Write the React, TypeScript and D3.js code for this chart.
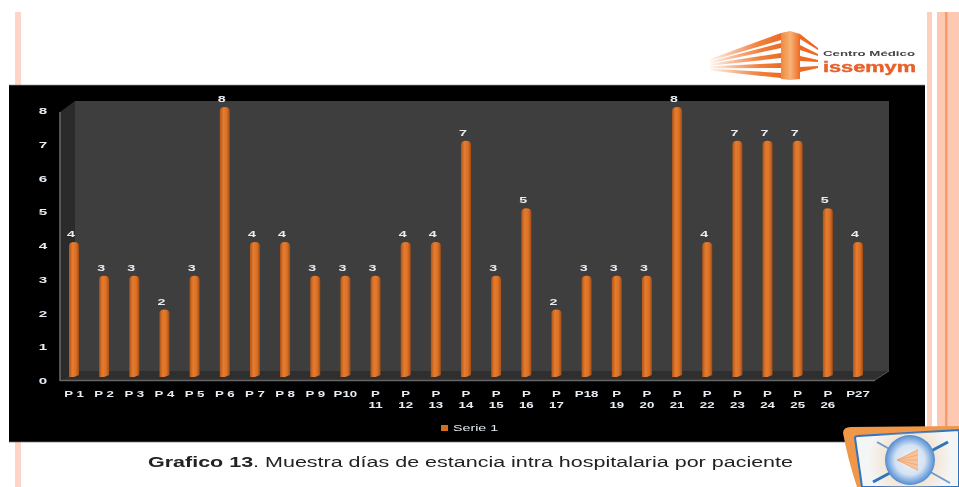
import React from "react";
import * as d3 from "d3";

const patients = ["P 1","P 2","P 3","P 4","P 5","P 6","P 7","P 8","P 9","P10","P 11","P 12","P 13","P 14","P 15","P 16","P 17","P18","P 19","P 20","P 21","P 22","P 23","P 24","P 25","P 26","P27"];
const wrapped = ["P 11","P 12","P 13","P 14","P 15","P 16","P 17","P 19","P 20","P 21","P 22","P 23","P 24","P 25","P 26"];
const days = [4,3,3,2,3,8,4,4,3,3,3,4,4,7,3,5,2,3,3,3,8,4,7,7,7,5,4];
const yTicks = [0,1,2,3,4,5,6,7,8];
const logoLeftStripes = [[33,40],[43,48],[53,58],[63,68],[73,78]];
const logoRightStripes = [[34,48],[45,54],[56,60],[67,66]];
const fanRays = [-2,-1,0,1,2];

const W = 959, H = 487;
const x = d3.scalePoint<string>().domain(patients).range([74, 858]);
const y = d3.scaleLinear().domain([0, 8]).range([377, 107]);
const font = "'Liberation Sans', Arial, sans-serif";
const labelFill = "#e6edf5";

function Wide({ cx, by, text, sx = 1.5, weight = 700, anchor = "middle" }: any) {
  return (
    <text transform={`translate(${cx},${by}) scale(${sx},1)`} textAnchor={anchor} fontSize={9.5} fontWeight={weight} fill={labelFill}>
      {text}
    </text>
  );
}

export default function App() {
  const bw = 10;
  const barPath = (v: number, cx: number) => {
    const t = y(v), b = y(0), r = bw / 2;
    return `M${cx - r},${b}L${cx - r},${t + 4}Q${cx - r},${t} ${cx},${t}Q${cx + r},${t} ${cx + r},${t + 4}L${cx + r},${b - 2}L${cx},${b}Z`;
  };
  const inner = "M855,438Q855,436 858,436L959,430L959,487L862,487Z";
  return (
    <svg width={W} height={H} viewBox={`0 0 ${W} ${H}`} style={{ position: "absolute", left: 0, top: 0, background: "#fff" }} fontFamily={font}>
      <defs>
        <linearGradient id="bar" x1="0" x2="1" y1="0" y2="0">
          <stop offset="0" stopColor="#b05518" />
          <stop offset="0.35" stopColor="#e47c30" />
          <stop offset="0.7" stopColor="#da7026" />
          <stop offset="1" stopColor="#a04c16" />
        </linearGradient>
        <linearGradient id="stripe" x1="0" x2="1" y1="0" y2="0">
          <stop offset="0" stopColor="#f0702a" stopOpacity="0.05" />
          <stop offset="0.7" stopColor="#f0803c" />
          <stop offset="1" stopColor="#ee6a24" />
        </linearGradient>
        <linearGradient id="tower" x1="0" x2="1" y1="0" y2="0">
          <stop offset="0" stopColor="#f08a3c" />
          <stop offset="0.5" stopColor="#f7b277" />
          <stop offset="1" stopColor="#ee6a24" />
        </linearGradient>
        <radialGradient id="globe">
          <stop offset="0" stopColor="#f8f3ee" />
          <stop offset="0.6" stopColor="#d3e2f4" />
          <stop offset="1" stopColor="#4f8bd2" />
        </radialGradient>
        <radialGradient id="halo">
          <stop offset="0" stopColor="#f3cfa8" />
          <stop offset="1" stopColor="#f3cfa8" stopOpacity="0" />
        </radialGradient>
        <clipPath id="badgeClip"><path d={inner} /></clipPath>
        <filter id="soft" x="-5%" y="-5%" width="110%" height="110%">
          <feGaussianBlur stdDeviation="0.55" />
        </filter>
      </defs>

      {/* page stripes */}
      <rect x={15} y={12} width={6} height={475} fill="#fdd5c8" />
      <rect x={927} y={12} width={5} height={475} fill="#fdd0bc" />
      <rect x={937} y={12} width={22} height={475} fill="#fdc9b2" />
      <rect x={945} y={12} width={2.5} height={475} fill="#fb9c68" />

      {/* logo */}
      <g filter="url(#soft)">
        {logoLeftStripes.map(([a, b], i) => (
          <polygon key={i} fill="url(#stripe)"
            points={`710,${59 + i * 2.4} 781,${a} 781,${b} 710,${61 + i * 2.4}`} />
        ))}
        <polygon points="781,33 790,31 800,34 800,79 790,80 781,79" fill="url(#tower)" />
        {logoRightStripes.map(([a, b], i) => (
          <polygon key={i} fill="#ee6a24" points={`800,${a} 818,${b} 818,${b + 2} 800,${a + 5}`} />
        ))}
        <text x={823} y={56} fontSize={7.5} fontWeight={700} fill="#444" textLength={92} lengthAdjust="spacingAndGlyphs">Centro Médico</text>
        <text x={823} y={72} fontSize={14} fontWeight={700} fill="#e8602a" stroke="#e8602a" strokeWidth={0.4} textLength={93} lengthAdjust="spacingAndGlyphs">issemym</text>
      </g>

      {/* chart panel */}
      <rect x={9} y={85} width={916} height={357} fill="#000" />
      <line x1={9} x2={925} y1={85} y2={85} stroke="#999" strokeWidth={0.7} />
      <line x1={9} x2={925} y1={442} y2={442} stroke="#777" strokeWidth={0.7} />

      <rect x={75} y={101} width={814} height={270} fill="#3e3e3e" />
      <polygon points="60,112 75,101 75,371 60,380" fill="#2b2b2b" />
      <polygon points="60,380 75,371 889,371 875,380" fill="#2f2f2f" />
      <line x1={60} x2={60} y1={112} y2={381} stroke="#666" strokeWidth={1.6} />
      <line x1={60} x2={875} y1={380.5} y2={380.5} stroke="#666" strokeWidth={1.4} />
      <line x1={875} x2={889} y1={380} y2={371} stroke="#555" strokeWidth={1} />

      <g filter="url(#soft)">
        {days.map((v, i) => (
          <path key={patients[i]} d={barPath(v, x(patients[i])!)} fill="url(#bar)" />
        ))}
        {days.map((v, i) => (
          <Wide key={patients[i]} cx={x(patients[i])! - 3} by={y(v) - 5} text={v} />
        ))}
        {yTicks.map(t => (
          <Wide key={t} cx={43} by={y(t) + 7} text={t} sx={1.6} />
        ))}
        {patients.map(p => {
          const cx = x(p)!;
          if (wrapped.includes(p)) {
            const [a, b] = p.split(" ");
            return (
              <g key={p}>
                <Wide cx={cx} by={397} text={a} sx={1.4} />
                <Wide cx={cx} by={408} text={b} sx={1.4} />
              </g>
            );
          }
          return <Wide key={p} cx={cx} by={397} text={p} sx={1.4} />;
        })}
        <rect x={441} y={425} width={7} height={6} fill="#d66c24" />
        <Wide cx={453} by={431} text="Serie 1" sx={1.5} weight={400} anchor="start" />
      </g>

      {/* caption */}
      <text x={148} y={467} fontSize={15.5} fill="#222" filter="url(#soft)" textLength={645} lengthAdjust="spacingAndGlyphs">
        <tspan fontWeight={700}>Grafico 13</tspan>. Muestra días de estancia intra hospitalaria por paciente
      </text>

      {/* badge */}
      <g filter="url(#soft)">
        <path d="M843,433Q843,427 851,427L959,426L959,487L857,487Q848,460 843,433Z" fill="#f0974a" />
        <path d={inner} fill="#f4f5f5" stroke="#2e74bd" strokeWidth={2} />
        <g clipPath="url(#badgeClip)">
          <circle cx={910} cy={460} r={42} fill="url(#halo)" />
        </g>
        <line x1={877} y1={442} x2={950} y2={483} stroke="#6d9bcf" strokeWidth={2} />
        <line x1={873} y1={482} x2={948} y2={442} stroke="#2e74bd" strokeWidth={3} />
        <circle cx={910} cy={460} r={25} fill="url(#globe)" />
        <polygon points="897,460 918,449 918,471" fill="#f6c49c" />
        {fanRays.map(k => (
          <line key={k} x1={897} y1={460} x2={918} y2={460 + k * 5} stroke="#f0a06a" strokeWidth={0.7} />
        ))}
      </g>
    </svg>
  );
}
